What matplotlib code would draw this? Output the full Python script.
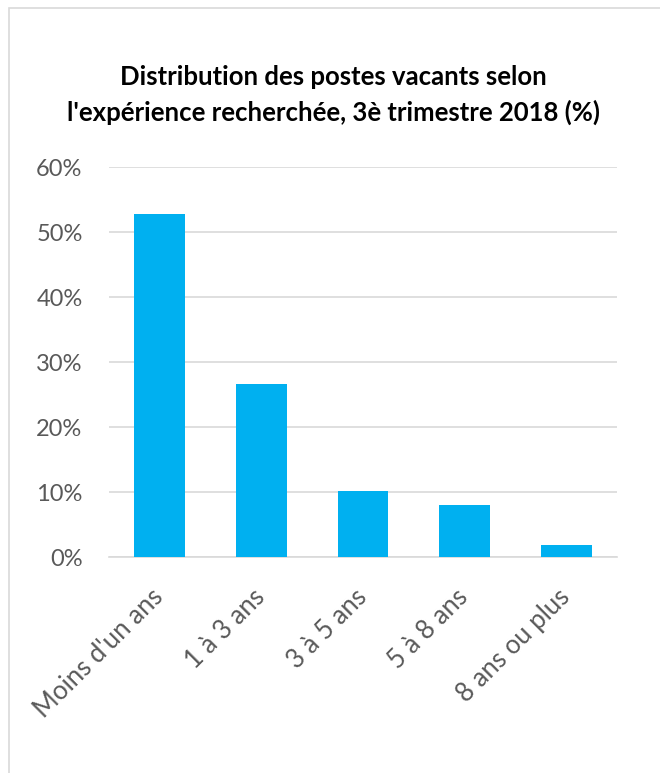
import matplotlib.pyplot as plt
from matplotlib.patches import Rectangle
from matplotlib.ticker import FuncFormatter

# données
categories = ["Moins d'un ans", "1 à 3 ans", "3 à 5 ans", "5 à 8 ans", "8 ans ou plus"]
valeurs = [52.8, 26.7, 10.15, 8.1, 1.9]
y_ticks = [0, 10, 20, 30, 40, 50, 60]

titre = "Distribution des postes vacants selon\nl'expérience recherchée, 3è trimestre 2018 (%)"

plt.rcParams["font.family"] = ["Lato", "DejaVu Sans"]

fig = plt.figure(figsize=(6.6, 7.73), dpi=100)
W, H = 660, 773

# cadre gris autour du graphique (coupé à droite et en bas)
fig.patches.append(Rectangle((9 / W, -0.05), 1.1, 1.05 - 8 / H,
                             transform=fig.transFigure, fill=False,
                             edgecolor="#d9d9d9", linewidth=1.2))

ax = fig.add_axes([109 / W, 1 - 557.3 / H, (617 - 109) / W, (557.3 - 167.3) / H])

positions = range(len(categories))
ax.bar(positions, valeurs, width=0.5, color="#00b0f0", zorder=3)

ax.set_xlim(-0.5, len(categories) - 0.5)
ax.set_ylim(0, 60)
ax.set_yticks(y_ticks)
ax.yaxis.set_major_formatter(FuncFormatter(lambda v, p: f"{v:.0f}%"))
ax.grid(axis="y", color="#d9d9d9", linewidth=1.2, zorder=0)

ax.set_xticks(list(positions))
ax.set_xticklabels(categories, rotation=45, ha="right", va="center",
                   rotation_mode="anchor")
ax.tick_params(axis="x", length=0, pad=26, labelsize=18.5, labelcolor="#595959")
ax.tick_params(axis="y", length=0, pad=19, labelsize=17, labelcolor="#595959")

for s in ["top", "right", "left"]:
    ax.spines[s].set_visible(False)
ax.spines["bottom"].set_color("#d9d9d9")
ax.spines["bottom"].set_linewidth(1.2)

fig.text(0.505, 1 - 95 / H, titre, ha="center", va="center",
         fontsize=18.5, fontweight="bold", linespacing=1.5, color="black")

fig.savefig("out.png", dpi=100, facecolor="white")
